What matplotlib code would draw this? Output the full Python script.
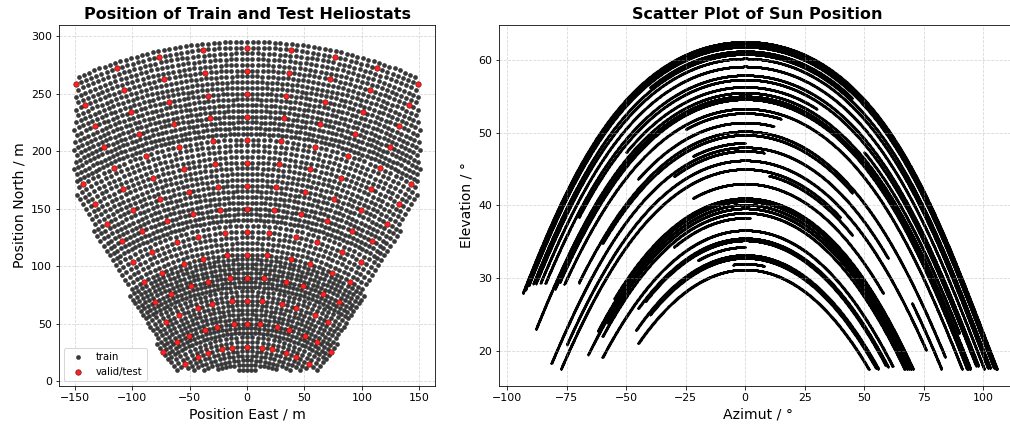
import numpy as np
import matplotlib.pyplot as plt

# --- Campo de heliostatos ---
tower_north = -72.0  # centro de los arcos de filas
row_north = [10, 14, 18, 22, 26, 30, 34, 38, 42, 46, 50, 54, 58, 62, 66, 70, 74,
             78, 82, 86, 90, 94, 98, 102, 106, 110, 115, 120, 125, 130, 135, 140,
             145, 150, 155, 160, 165, 170, 175, 180, 185, 190, 195, 200, 205, 210,
             215, 220, 225, 230, 235, 240, 245, 250, 255, 260, 265, 270, 275, 280,
             285, 290, 295]
zone_north = [10, 42, 82, 138, 215]   # inicio de cada zona de columnas
zone_gap = [3.5, 3.5, 3.6, 3.7, 3.8]  # separacion lateral al inicio de la zona (m)
field_bottom = 9.5
field_half_width = 150.0
edge_x0, edge_y0, edge_slope = 67.0, 12.0, 0.555  # borde diagonal inferior

red_rows = [30, 50, 70, 90, 110, 130, 150, 170, 190, 210, 230, 250, 270, 290]
red_gap = [11, 13, 15, 17, 19, 21, 23, 26, 28, 30, 32, 34, 36, 38]
red_min_north = 14.0

# --- Trayectorias solares (latitud de Juelich) ---
latitude = 50.915
sun_peak = [62.5, 62.2, 61.8, 61.2, 60.8, 60.2, 59.1,
            57.9, 57.3, 56.3, 56.3, 55.5, 55.0, 54.6,
            53.3, 52.7, 51.4, 50.2, 49.7, 48.6, 48.0, 48.0, 47.5, 46.2, 45.0,
            44.5, 43.0,
            41.0, 40.6, 40.1, 39.6, 39.0, 38.3, 36.6,
            35.5, 35.2, 34.3, 33.2, 32.8, 32.0, 31.2]
sun_az_start = [-93.5, -92.5, -91, -40, -89, -88, -86,
                -84, -70, -50, 50, -88, -80, -78,
                -76, -25, -45, -70, -60, -22, -81.5, 70, -30, -75, -79,
                10, -22,
                -55, -62, -66, -58, -60, -30, -60,
                -45, -42, -20, -46, -40, -5, -45]
sun_az_end = [106, 105.5, 104.5, 45, 103, 102, 100.5,
              98, 97, 30, 90, 95, 94.5, 94,
              92, 15, 12, 84, 45, 0, 60, 88, 8, 76, 40,
              45, 58,
              72, 72, 73, 70, 68, 2, 62,
              60, 59, 0, 56, 55, 8, 52]
min_elevation = 17.5


def heliostat_field():
    xs, ys, cols = [], [], []
    for y0 in row_north:
        r = y0 - tower_north
        zi = max(i for i, z in enumerate(zone_north) if y0 >= z)
        dth = zone_gap[zi] / (zone_north[zi] - tower_north)
        k = np.arange(-int(np.pi / 2 / dth), int(np.pi / 2 / dth) + 1)
        th = k * dth
        x = r * np.sin(th)
        y = tower_north + r * np.cos(th)
        edge = np.minimum(field_half_width, edge_x0 + edge_slope * (y - edge_y0))
        m = (np.abs(x) <= edge + 0.5) & (y >= field_bottom)
        xs.append(x[m])
        ys.append(y[m])
        cols.append((y0, dth, k[m]))
    return xs, ys, cols


xs, ys, cols = heliostat_field()
train_x, train_y, red_x, red_y = [], [], [], []
for (y0, dth, k), x, y in zip(cols, xs, ys):
    is_red = np.zeros(len(k), bool)
    if y0 in red_rows:
        r = y0 - tower_north
        step = red_gap[red_rows.index(y0)] / r
        targets = np.round(np.arange(-40, 41) * step / dth).astype(int)
        is_red = np.isin(k, targets) & (y >= red_min_north)
    train_x.append(x[~is_red]); train_y.append(y[~is_red])
    red_x.append(x[is_red]); red_y.append(y[is_red])
train_x = np.concatenate(train_x); train_y = np.concatenate(train_y)
red_x = np.concatenate(red_x); red_y = np.concatenate(red_y)


def sun_path(peak, a0, a1):
    lat = np.radians(latitude)
    dec = np.radians(peak - (90 - latitude))
    h = np.radians(np.linspace(-130, 130, 6000))
    sin_el = np.sin(lat) * np.sin(dec) + np.cos(lat) * np.cos(dec) * np.cos(h)
    el = np.arcsin(sin_el)
    cos_az = (sin_el * np.sin(lat) - np.sin(dec)) / (np.cos(el) * np.cos(lat))
    az = np.degrees(np.arccos(np.clip(cos_az, -1, 1))) * np.sign(h)
    el = np.degrees(el)
    m = (az >= a0) & (az <= a1) & (el >= min_elevation)
    return az[m], el[m]


fig = plt.figure(figsize=(1010 / 72, 428 / 72), dpi=72)
ax1 = fig.add_axes([59 / 1010, 42 / 428, 376 / 1010, 361 / 428])
ax2 = fig.add_axes([499 / 1010, 42 / 428, 517.5 / 1010, 361 / 428])

ax1.scatter(train_x, train_y, s=22, c='#383838', linewidths=0, label='train', zorder=2)
ax1.scatter(red_x, red_y, s=30, c='#ff2020', edgecolors='#5a1010', linewidths=0.6,
            label='valid/test', zorder=3)
ax1.set_xlim(-163.5, 163.5)
ax1.set_ylim(-4.3, 309.6)
ax1.set_xticks([-150, -100, -50, 0, 50, 100, 150])
ax1.set_yticks([0, 50, 100, 150, 200, 250, 300])
ax1.set_title('Position of Train and Test Heliostats', fontsize=16, fontweight='bold')
ax1.set_xlabel('Position East / m', fontsize=14)
ax1.set_ylabel('Position North / m', fontsize=14)
ax1.grid(True, linestyle='--', alpha=0.5)
ax1.legend(loc='lower left', fontsize=10)

for p, a0, a1 in zip(sun_peak, sun_az_start, sun_az_end):
    az, el = sun_path(p, a0, a1)
    ax2.scatter(az, el, s=4, c='k', linewidths=0)
ax2.set_xlim(-103.4, 114.0)
ax2.set_ylim(15.2, 64.8)
ax2.set_title('Scatter Plot of Sun Position', fontsize=16, fontweight='bold',
              x=(757.5 - 499) / 517.5)
ax2.set_xlabel('Azimut / °', fontsize=14)
ax2.set_ylabel('Elevation / °', fontsize=14)
ax2.grid(True, linestyle='--', alpha=0.5)

for ax in (ax1, ax2):
    ax.tick_params(labelsize=11)

fig.savefig('out.png', dpi=72)
